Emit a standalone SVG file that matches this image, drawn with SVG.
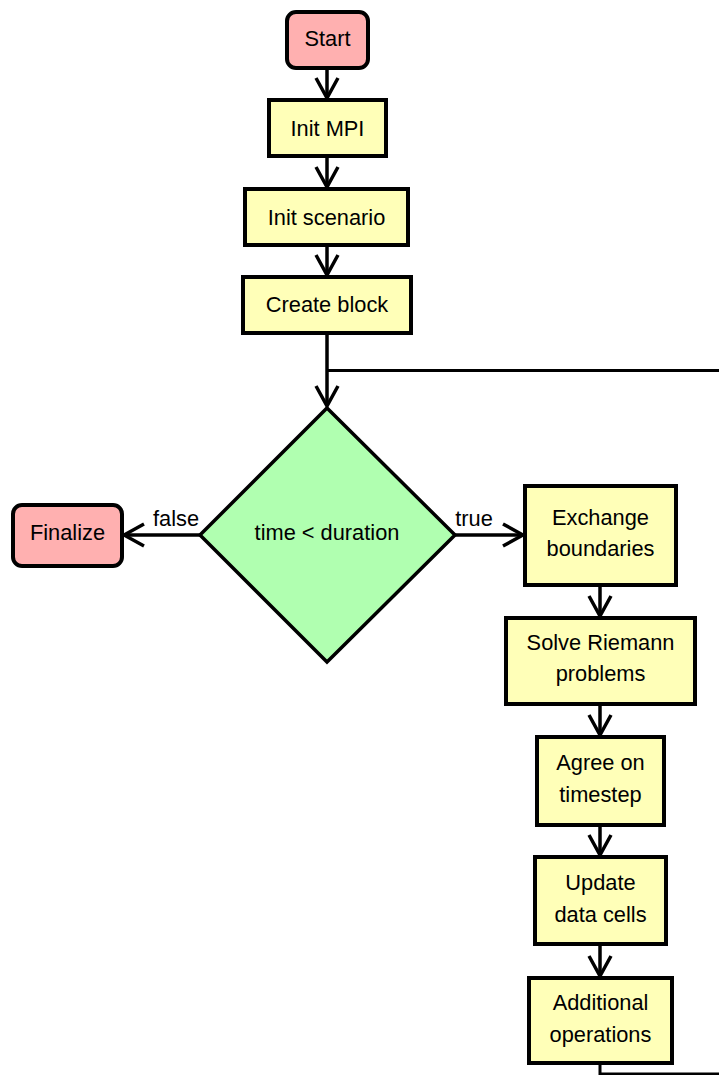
<svg xmlns="http://www.w3.org/2000/svg" width="719" height="1075" viewBox="0 0 719 1075">
<style>
.term{fill:#ffb0b0;stroke:#000;stroke-width:4}
.proc{fill:#ffffb8;stroke:#000;stroke-width:4}
.dec{fill:#b0ffb0;stroke:#000;stroke-width:3.5}
.t{font-family:"Liberation Sans",Arial,sans-serif;font-size:21.8px;fill:#000;text-anchor:middle}
.e{fill:none;stroke:#000;stroke-width:3.5}
.l{fill:none;stroke:#000;stroke-width:3}
</style>
<defs>
<marker id="ah" markerUnits="userSpaceOnUse" viewBox="-24 -14 27 28" refX="0" refY="0" markerWidth="27" markerHeight="28" orient="auto">
<path d="M-20,-11 L0,0 L-20,11" fill="none" stroke="#000" stroke-width="3.5"/>
</marker>
</defs>
<g id="edges">
<path class="e" d="M327,68 V98" marker-end="url(#ah)"/>
<path class="e" d="M327,156 V187" marker-end="url(#ah)"/>
<path class="e" d="M327,245 V275" marker-end="url(#ah)"/>
<path class="e" d="M327,333 V406" marker-end="url(#ah)"/>
<path class="l" d="M327,370.5 H719"/>
<path class="e" d="M200,535 H124" marker-end="url(#ah)"/>
<path class="e" d="M455,535 H523" marker-end="url(#ah)"/>
<path class="e" d="M600,585 V616" marker-end="url(#ah)"/>
<path class="e" d="M600,704 V735" marker-end="url(#ah)"/>
<path class="e" d="M600,825 V855" marker-end="url(#ah)"/>
<path class="e" d="M600,944 V976" marker-end="url(#ah)"/>
<path class="l" d="M600,1063 V1074 H719"/>
<text class="t" x="176" y="526">false</text>
<text class="t" x="474" y="526">true</text>
</g>
<g id="start"><rect class="term" x="287" y="12" width="81" height="56" rx="9"/><text class="t" x="327.5" y="45.5">Start</text></g>
<g id="initmpi"><rect class="proc" x="269" y="100" width="117" height="56"/><text class="t" x="327.5" y="135.5">Init MPI</text></g>
<g id="initscenario"><rect class="proc" x="245" y="189" width="163" height="56"/><text class="t" x="326.5" y="224.5">Init scenario</text></g>
<g id="createblock"><rect class="proc" x="243" y="277" width="168" height="56"/><text class="t" x="327" y="312">Create block</text></g>
<g id="loop"><polygon class="dec" points="327,408 455,535 327,662 200,535"/><text class="t" x="327" y="540">time &lt; duration</text></g>
<g id="finalize"><rect class="term" x="13" y="505" width="109" height="61" rx="9"/><text class="t" x="67.5" y="540">Finalize</text></g>
<g id="exchange"><rect class="proc" x="525" y="486" width="151" height="99"/><text class="t" x="600.5" y="525">Exchange</text><text class="t" x="600.5" y="556">boundaries</text></g>
<g id="solve"><rect class="proc" x="506" y="618" width="189" height="86"/><text class="t" x="600.5" y="650">Solve Riemann</text><text class="t" x="600.5" y="681">problems</text></g>
<g id="agree"><rect class="proc" x="537" y="737" width="127" height="88"/><text class="t" x="600.5" y="770">Agree on</text><text class="t" x="600.5" y="802">timestep</text></g>
<g id="update"><rect class="proc" x="535" y="857" width="131" height="87"/><text class="t" x="600.5" y="890">Update</text><text class="t" x="600.5" y="922">data cells</text></g>
<g id="additional"><rect class="proc" x="529" y="978" width="143" height="85"/><text class="t" x="600.5" y="1010">Additional</text><text class="t" x="600.5" y="1042">operations</text></g>
</svg>
